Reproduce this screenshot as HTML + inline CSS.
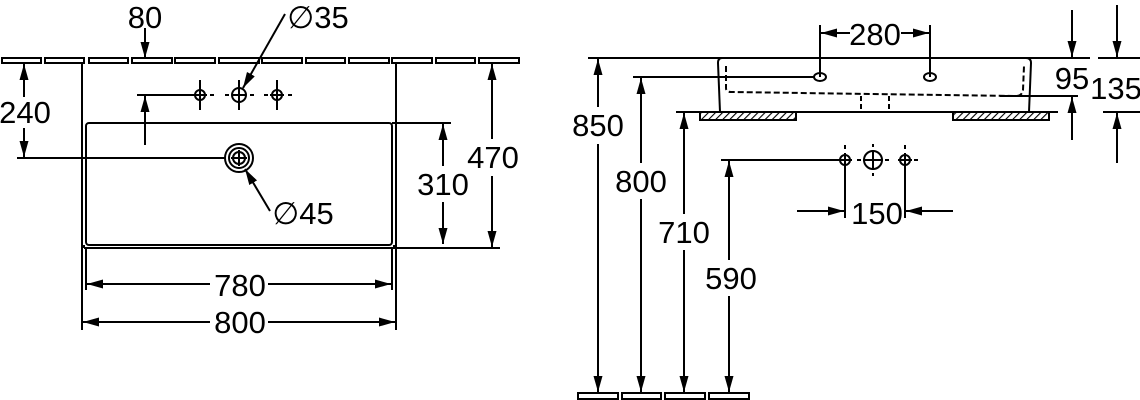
<!DOCTYPE html>
<html><head><meta charset="utf-8"><style>
html,body{margin:0;padding:0;background:#fff;}
svg{display:block;}
text{font-family:"Liberation Sans","DejaVu Sans",sans-serif;font-size:31px;fill:#000;text-anchor:middle;}
</style></head><body>
<svg width="1140" height="400" viewBox="0 0 1140 400" xmlns="http://www.w3.org/2000/svg">
<defs>
<marker id="a" viewBox="0 0 16 9" refX="16" refY="4.5" markerWidth="16" markerHeight="9" markerUnits="userSpaceOnUse" orient="auto"><path d="M0,0L16,4.5L0,9z" fill="#000"/></marker>
<pattern id="h" width="5" height="5" patternUnits="userSpaceOnUse" patternTransform="rotate(45)"><rect width="5" height="5" fill="#fff"/><line x1="0" y1="0" x2="0" y2="5" stroke="#000" stroke-width="2.2"/></pattern>
</defs>
<g stroke="#000" stroke-width="2" fill="none">
<g fill="#fff">
<rect x="2" y="58" width="39" height="5"/><rect x="45" y="58" width="39" height="5"/><rect x="89" y="58" width="39" height="5"/><rect x="132" y="58" width="40" height="5"/><rect x="175" y="58" width="40" height="5"/><rect x="219" y="58" width="40" height="5"/><rect x="262" y="58" width="40" height="5"/><rect x="306" y="58" width="39" height="5"/><rect x="349" y="58" width="40" height="5"/><rect x="392" y="58" width="40" height="5"/><rect x="436" y="58" width="39" height="5"/><rect x="479" y="58" width="40" height="5"/>
</g>
<path d="M82,63V330M396,63V330M86,248V290M392,248V290"/>
<rect x="86" y="123" width="306" height="122" rx="3"/>
<path d="M84,248H500M84,245V248M394,245V248"/>
<path d="M145,28V58" marker-end="url(#a)"/>
<path d="M145,145V96" marker-end="url(#a)"/>
<path d="M137,95H193"/>
<circle cx="200" cy="95" r="5"/><circle cx="239" cy="95" r="7"/><circle cx="277" cy="95" r="5"/>
<path d="M193,95H207M200,80V110M232,95H246M239,80V110M270,95H284M277,80V110"/>
<path d="M186,95H190M210,95H214M225,95H229M250,95H254M264,95H268M288,95H292"/>
<path d="M285,14L243,88" marker-end="url(#a)"/>
<path d="M24,97V64" marker-end="url(#a)"/>
<path d="M24,128V157" marker-end="url(#a)"/>
<path d="M17,158H225"/>
<circle cx="239" cy="158" r="14"/><circle cx="239" cy="158" r="10"/><circle cx="239" cy="158" r="6"/>
<path d="M231,158H247M239,150V166"/>
<path d="M270,211L245,169" marker-end="url(#a)"/>
<path d="M392,123H451"/>
<path d="M443,166V124" marker-end="url(#a)"/>
<path d="M443,202V244" marker-end="url(#a)"/>
<path d="M492,139V64" marker-end="url(#a)"/>
<path d="M492,176V247" marker-end="url(#a)"/>
<path d="M210,284H87" marker-end="url(#a)"/>
<path d="M268,284H391" marker-end="url(#a)"/>
<path d="M210,322H83" marker-end="url(#a)"/>
<path d="M268,322H395" marker-end="url(#a)"/>

<path d="M588,58H1090M1098,58H1140"/>
<path d="M722,58H1026Q1031,58 1031,63L1029,112M718,63Q718,58 722,58M718,63L720,112"/>
<path d="M676,112H1058"/>
<rect x="700" y="112" width="96" height="8" fill="url(#h)"/>
<rect x="953" y="112" width="96" height="8" fill="url(#h)"/>
<path d="M726,66V88Q726,92 731,92L1016,96Q1022,96 1023,90L1024,66" stroke-dasharray="6,3"/>
<path d="M861,96V112M889,96V112" stroke-dasharray="5,3"/>
<ellipse cx="820" cy="77" rx="6" ry="4"/><ellipse cx="930" cy="77" rx="6" ry="4"/>
<path d="M820,25V77M930,25V77"/>
<path d="M850,33H821" marker-end="url(#a)"/>
<path d="M901,33H929" marker-end="url(#a)"/>
<path d="M1000,96H1078M1103,112H1140"/>
<path d="M1072,10V57" marker-end="url(#a)"/>
<path d="M1072,140V97" marker-end="url(#a)"/>
<path d="M1117,5V57" marker-end="url(#a)"/>
<path d="M1117,163V113" marker-end="url(#a)"/>
<path d="M633,77H815"/>
<path d="M721,160H838"/>
<path d="M598,107V59" marker-end="url(#a)"/>
<path d="M598,144V392" marker-end="url(#a)"/>
<path d="M641,163V78" marker-end="url(#a)"/>
<path d="M641,199V392" marker-end="url(#a)"/>
<path d="M684,214V113" marker-end="url(#a)"/>
<path d="M684,250V392" marker-end="url(#a)"/>
<path d="M729,260V161" marker-end="url(#a)"/>
<path d="M729,296V392" marker-end="url(#a)"/>
<g fill="#fff">
<rect x="578" y="393" width="40" height="6"/><rect x="622" y="393" width="39" height="6"/><rect x="665" y="393" width="40" height="6"/><rect x="709" y="393" width="40" height="6"/>
</g>
<circle cx="845" cy="160" r="5"/><circle cx="873" cy="160" r="9"/><circle cx="905" cy="160" r="5"/>
<path d="M838,160H852M845,153V218M863,160H883M873,150V170M898,160H912M905,153V218M905,145V149M845,145V149M873,144V147M873,173V176M857,160H861M885,160H889M914,160H918"/>
<path d="M797,211H844" marker-end="url(#a)"/>
<path d="M953,211H906" marker-end="url(#a)"/>
</g>
<g>
<text x="145" y="28">80</text>
<text x="318" y="28">∅35</text>
<text x="25" y="123">240</text>
<text x="303" y="224">∅45</text>
<text x="443" y="195">310</text>
<text x="493" y="168">470</text>
<text x="240" y="296">780</text>
<text x="240" y="333">800</text>
<text x="875" y="45">280</text>
<text x="1072" y="89">95</text>
<text x="1116" y="99">135</text>
<text x="598" y="136">850</text>
<text x="641" y="192">800</text>
<text x="684" y="243">710</text>
<text x="731" y="289">590</text>
<text x="877" y="224">150</text>
</g>
</svg>
</body></html>
